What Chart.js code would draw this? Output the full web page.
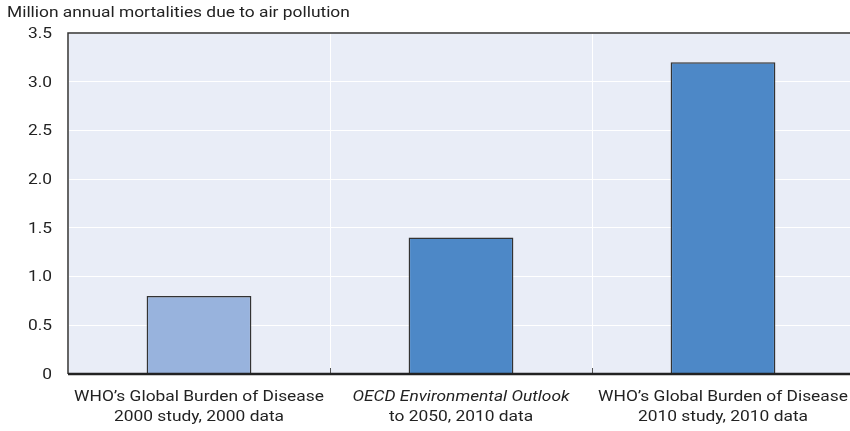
<!DOCTYPE html>
<html>
<head>
<meta charset="utf-8">
<script src="https://cdn.jsdelivr.net/npm/chart.js@4.4.1/dist/chart.umd.min.js"></script>
<style>
  html, body { margin: 0; padding: 0; background: #fff; overflow: hidden; }
  body { width: 850px; height: 431px; }
  /* plot runs a few pixels past the right edge, as in the reference */
  #wrap { width: 854px; height: 431px; position: relative; }
</style>
</head>
<body>
<div id="wrap"><canvas id="chart"></canvas></div>
<script>
// ===============================
// Data
// ===============================
const categories = ["GBD 2000", "OECD Outlook", "GBD 2010"];
const labelLines = [
  ["WHO’s Global Burden of Disease", "2000 study, 2000 data"],
  ["OECD Environmental Outlook", "to 2050, 2010 data"],
  ["WHO’s Global Burden of Disease", "2010 study, 2010 data"],
];
const italicFirstLine = [false, true, false];
const mortalities = [0.8, 1.4, 3.2];
const barColors = ["#98b3dd", "#4d88c7", "#4d88c7"];
const yTitle = "Million annual mortalities due to air pollution";

const FONT = "Roboto, 'Liberation Sans', sans-serif";
const TEXT = "#222";
const STRETCH = 1.12; // reference type is wider than the installed fonts

// draw text stretched horizontally around its anchor
function wideText(ctx, str, x, y, align) {
  ctx.save();
  ctx.translate(x, y);
  ctx.scale(STRETCH, 1);
  ctx.textAlign = align;
  ctx.fillText(str, 0, 0);
  ctx.restore();
}

// ===============================
// Plugin: background, borders, labels
// ===============================
const framePlugin = {
  id: "frame",
  beforeDraw(chart) {
    const { ctx, chartArea: a } = chart;
    ctx.save();
    ctx.fillStyle = "#e9edf7";
    ctx.fillRect(a.left, a.top, a.right - a.left, a.bottom - a.top);
    ctx.restore();
  },
  afterDatasetsDraw(chart) {
    const { ctx, chartArea: a } = chart;
    const x = chart.scales.x;
    const y = chart.scales.y;
    ctx.save();
    ctx.strokeStyle = "#333";
    // left and top borders
    ctx.lineWidth = 1.5;
    ctx.beginPath();
    ctx.moveTo(a.left, a.bottom);
    ctx.lineTo(a.left, a.top);
    ctx.lineTo(a.right, a.top);
    ctx.stroke();
    // small ticks at category boundaries
    ctx.lineWidth = 1;
    ctx.strokeStyle = "#555";
    for (let i = 1; i < categories.length; i++) {
      const bx = (x.getPixelForValue(i - 1) + x.getPixelForValue(i)) / 2;
      ctx.beginPath();
      ctx.moveTo(Math.round(bx) + 0.5, a.bottom);
      ctx.lineTo(Math.round(bx) + 0.5, a.bottom - 6);
      ctx.stroke();
    }
    // bottom axis
    ctx.strokeStyle = "#222";
    ctx.lineWidth = 2.5;
    ctx.beginPath();
    ctx.moveTo(a.left, a.bottom);
    ctx.lineTo(a.right, a.bottom);
    ctx.stroke();

    ctx.fillStyle = TEXT;
    ctx.textBaseline = "middle";

    // y tick labels
    ctx.font = "15.5px " + FONT;
    y.ticks.forEach((t) => {
      const label = t.value === 0 ? "0" : t.value.toFixed(1);
      wideText(ctx, label, a.left - 16, y.getPixelForValue(t.value) + 1, "right");
    });

    // category labels
    labelLines.forEach((lines, i) => {
      const cx = x.getPixelForValue(i);
      lines.forEach((line, j) => {
        const italic = j === 0 && italicFirstLine[i];
        ctx.font = (italic ? "italic " : "") + "15.5px " + FONT;
        wideText(ctx, line, cx, a.bottom + 23 + j * 20, "center");
      });
    });

    // axis title
    ctx.font = "15.5px " + FONT;
    wideText(ctx, yTitle, 7, 13, "left");
    ctx.restore();
  },
};

// ===============================
// Chart
// ===============================
new Chart(document.getElementById("chart"), {
  type: "bar",
  data: {
    labels: categories,
    datasets: [
      {
        data: mortalities,
        backgroundColor: barColors,
        borderColor: "#333",
        borderWidth: 1.5,
        barPercentage: 0.8,
        categoryPercentage: 0.5,
      },
    ],
  },
  options: {
    responsive: true,
    maintainAspectRatio: false,
    animation: false,
    layout: { padding: { top: 33, right: 0, left: 0, bottom: 0 } },
    plugins: {
      legend: { display: false },
      tooltip: { enabled: false },
    },
    scales: {
      x: {
        offset: true,
        grid: { color: "#fff", lineWidth: 1, drawTicks: false, offset: true },
        border: { display: false },
        ticks: { display: false },
        afterFit(scale) { scale.height = 57; },
      },
      y: {
        min: 0,
        max: 3.5,
        grid: { color: "#fff", lineWidth: 1, drawTicks: false },
        border: { display: false },
        ticks: { stepSize: 0.5, display: false },
        afterFit(scale) { scale.width = 68; },
      },
    },
  },
  plugins: [framePlugin],
});
</script>
</body>
</html>
